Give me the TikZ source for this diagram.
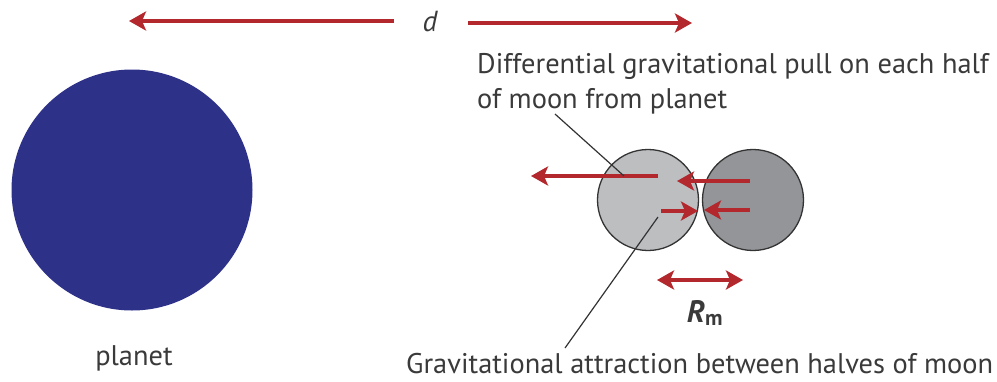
\documentclass[tikz,border=0pt]{standalone}
\usepackage{fontspec}
\setmainfont{PT Sans}
\usetikzlibrary{arrows.meta}
\definecolor{arrred}{HTML}{B3282D}
\definecolor{planetblue}{HTML}{2E3188}
\definecolor{lightmoon}{HTML}{BDBEC0}
\definecolor{darkmoon}{HTML}{939598}
\definecolor{txt}{HTML}{3A3A3A}
\begin{document}
\begin{tikzpicture}[x=1pt,y=-1pt,
  redarrow/.style={draw=arrred,line width=3.4pt,-{Stealth[length=17pt,width=19pt,inset=4pt]}},
  dblarrow/.style={draw=arrred,line width=3.4pt,{Stealth[length=17pt,width=19pt,inset=4pt]}-{Stealth[length=17pt,width=19pt,inset=4pt]}},
  leader/.style={draw=black!80,line width=1.2pt},
  lbl/.style={text=txt,font=\fontsize{28.4}{35}\selectfont,inner sep=0pt},
  half/.style={circle,draw=black!80,line width=1.3pt,minimum size=101pt,inner sep=0pt}]
\useasboundingbox (0,0) rectangle (997,381);
% planet
\node[circle,fill=planetblue,minimum size=241pt,inner sep=0pt] (planet) at (132,190) {};
\node[lbl,anchor=base] (planetlbl) at (134,365) {planet};
% distance d
\node[lbl,font=\fontsize{29}{30}\selectfont\itshape,anchor=base] (d) at (430,31) {d};
\coordinate (dl1) at (394,21);
\coordinate (dl2) at (129,21);
\coordinate (dr1) at (468,23);
\coordinate (dr2) at (692,23);
\draw[redarrow] (dl1) -- (dl2);
\draw[redarrow] (dr1) -- (dr2);
% moon halves
\node[half,fill=lightmoon] (mleft) at (648,200) {};
\node[half,fill=darkmoon] (mright) at (753,200) {};
% forces
\coordinate (a1s) at (658,176);
\coordinate (a1e) at (531,176);
\coordinate (a2s) at (750,181);
\coordinate (a2e) at (677,181);
\coordinate (a3s) at (661,211);
\coordinate (a3e) at (698,211);
\coordinate (a4s) at (750,210);
\coordinate (a4e) at (704,210);
\draw[redarrow] (a1s) -- (a1e);
\draw[redarrow] (a2s) -- (a2e);
\draw[redarrow] (a3s) -- (a3e);
\draw[redarrow] (a4s) -- (a4e);
% Rm
\coordinate (rm1) at (657,280);
\coordinate (rm2) at (743,280);
\draw[dblarrow] (rm1) -- (rm2);
\node[lbl,font=\fontsize{31}{32}\selectfont\bfseries,anchor=base] (rm) at (705,322) {\textit{R}\textsubscript{m}};
% labels
\node[lbl,anchor=base west] (topa) at (477,73) {Differential gravitational pull on each half};
\node[lbl,anchor=base west] (topb) at (477,108) {of moon from planet};
\node[lbl,anchor=base west] (bot) at (406,373) {Gravitational attraction between halves of moon};
% leaders
\coordinate (ltop1) at (555,114);
\coordinate (ltop2) at (624,176);
\draw[leader] (ltop1) -- (ltop2);
\coordinate (lbot1) at (658,217);
\coordinate (lbot2) at (565,348);
\draw[leader] (lbot1) -- (lbot2);
\end{tikzpicture}
\end{document}
